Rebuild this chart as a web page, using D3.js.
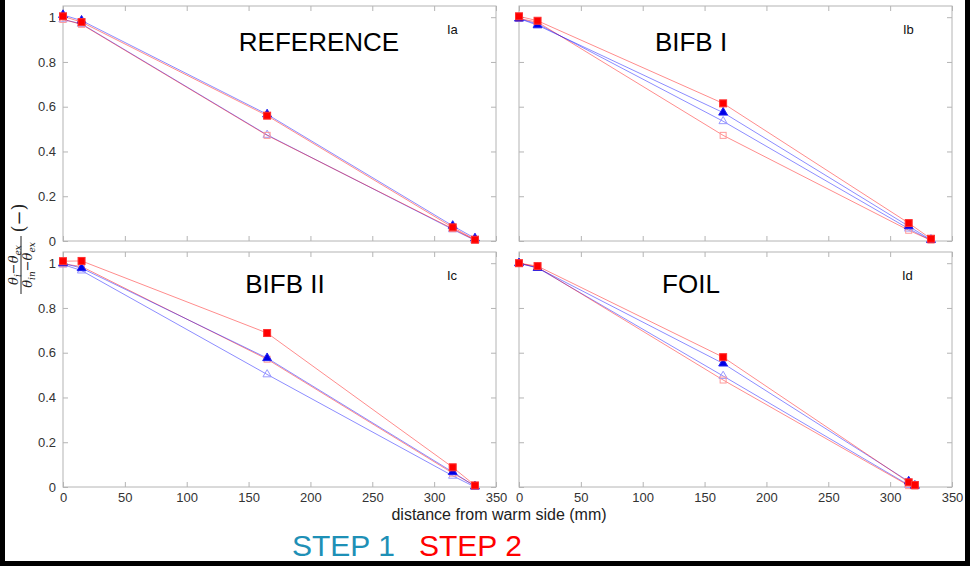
<!DOCTYPE html>
<html>
<head>
<meta charset="utf-8">
<style>
body { margin: 0; background: #fff; }
svg { display: block; font-family: "Liberation Sans", Arial, sans-serif; }
.axis path { stroke: none; }
.axis line { stroke: #b4b4b4; }
.axis text { fill: #333; font-size: 13px; }
.frame { fill: none; stroke: #b4b4b4; stroke-width: 1; }
.title { font-size: 26px; fill: #000; }
.tag { font-size: 13px; fill: #111; }
</style>
</head>
<body>
<svg width="970" height="566"></svg>
<script src="https://cdn.jsdelivr.net/npm/d3@7"></script>
<script>

// distances of the measuring points (mm)
var distance = [0, 15, 165, 315, 333];
var distanceFoil = [0, 15, 165, 315, 320];

var panelTitles = ["REFERENCE", "BIFB I", "BIFB II", "FOIL"];
var panelTags = ["Ia", "Ib", "Ic", "Id"];

var xTicks = [0, 50, 100, 150, 200, 250, 300, 350];
var yTicks = [0, 0.2, 0.4, 0.6, 0.8, 1];

// dimensionless temperature, step 1 (triangles) / step 2 (squares), filled and open
var refStep1Filled = [1.01, 0.985, 0.566, 0.068, 0.012];
var refStep1Open   = [0.99, 0.970, 0.474, 0.052, 0.003];
var refStep2Filled = [1.004, 0.978, 0.560, 0.061, 0.006];
var refStep2Open   = [0.99, 0.968, 0.472, 0.055, 0.004];

var bifb1Step1Filled = [0.994, 0.964, 0.574, 0.066, 0.005];
var bifb1Step1Open   = [0.994, 0.970, 0.535, 0.055, 0.003];
var bifb1Step2Filled = [1.004, 0.984, 0.615, 0.080, 0.010];
var bifb1Step2Open   = [0.994, 0.978, 0.472, 0.048, 0.003];

var bifb2Step1Filled = [1.0, 0.978, 0.576, 0.067, 0.003];
var bifb2Step1Open   = [0.994, 0.967, 0.503, 0.050, 0.0];
var bifb2Step2Filled = [1.009, 1.010, 0.688, 0.088, 0.007];
var bifb2Step2Open   = [0.997, 0.985, 0.571, 0.062, 0.006];

var foilStep1Filled = [1.0, 0.979, 0.552, 0.025, 0.006];
var foilStep1Open   = [1.0, 0.979, 0.496, 0.009, 0.003];
var foilStep2Filled = [1.0, 0.987, 0.580, 0.021, 0.009];
var foilStep2Open   = [1.0, 0.982, 0.478, 0.006, 0.003];

var svg = d3.select("svg");

// panel boxes
var layout = [
  {left: 63,  top: 6,   titleX: 319, titleY: 51,  tagX: 447, tagY: 34,  showX: false, showY: true},
  {left: 519, top: 6,   titleX: 691, titleY: 51,  tagX: 903, tagY: 34,  showX: false, showY: false},
  {left: 63,  top: 252, titleX: 285, titleY: 293, tagX: 447, tagY: 280, showX: true,  showY: true},
  {left: 519, top: 252, titleX: 691, titleY: 293, tagX: 902, tagY: 280, showX: true,  showY: false}
];
var pw = 433, ph = 235;

var panels = [
  {x: distance, s1f: refStep1Filled, s1o: refStep1Open, s2f: refStep2Filled, s2o: refStep2Open},
  {x: distance, s1f: bifb1Step1Filled, s1o: bifb1Step1Open, s2f: bifb1Step2Filled, s2o: bifb1Step2Open},
  {x: distance, s1f: bifb2Step1Filled, s1o: bifb2Step1Open, s2f: bifb2Step2Filled, s2o: bifb2Step2Open},
  {x: distanceFoil, s1f: foilStep1Filled, s1o: foilStep1Open, s2f: foilStep2Filled, s2o: foilStep2Open}
];

var x = d3.scaleLinear().domain([0, 350]).range([0, pw]);
var y = d3.scaleLinear().domain([0, 1.05]).range([ph, 0]);

var triangle = d3.symbol().type(d3.symbolTriangle).size(34);
var triangleOpen = d3.symbol().type(d3.symbolTriangle).size(30);

panels.forEach(function(p, i) {
  var L = layout[i];
  var g = svg.append("g").attr("transform", "translate(" + L.left + "," + L.top + ")");

  g.append("g").attr("class", "axis")
    .attr("transform", "translate(0," + ph + ")")
    .call(d3.axisBottom(x).tickValues(xTicks).tickSizeInner(-5).tickSizeOuter(0).tickPadding(6)
      .tickFormat(L.showX ? d3.format("d") : ""));
  g.append("g").attr("class", "axis")
    .call(d3.axisTop(x).tickValues(xTicks).tickSizeInner(-5).tickSizeOuter(0).tickFormat(""));
  g.append("g").attr("class", "axis")
    .call(d3.axisLeft(y).tickValues(yTicks).tickSizeInner(-5).tickSizeOuter(0).tickPadding(7)
      .tickFormat(L.showY ? function(d) { return d3.format("~g")(d); } : ""));
  g.append("g").attr("class", "axis")
    .attr("transform", "translate(" + pw + ",0)")
    .call(d3.axisRight(y).tickValues(yTicks).tickSizeInner(-5).tickSizeOuter(0).tickFormat(""));

  g.append("rect").attr("class", "frame").attr("width", pw).attr("height", ph);

  var series = [
    {v: p.s1o, line: "blue", kind: "triOpen"},
    {v: p.s2o, line: "red", kind: "sqOpen"},
    {v: p.s1f, line: "blue", kind: "tri"},
    {v: p.s2f, line: "red", kind: "sq"}
  ];

  var line = d3.line()
    .x(function(d, j) { return x(p.x[j]); })
    .y(function(d) { return y(d); });

  series.forEach(function(s) {
    g.append("path")
      .attr("d", line(s.v))
      .attr("fill", "none")
      .attr("stroke", s.line)
      .attr("stroke-opacity", 0.45)
      .attr("stroke-width", 1);
  });

  series.forEach(function(s) {
    var pts = g.selectAll(null).data(s.v).enter();
    if (s.kind == "sq" || s.kind == "sqOpen") {
      var sz = s.kind == "sq" ? 7 : 6;
      pts.append("rect")
        .attr("x", function(d, j) { return x(p.x[j]) - sz / 2; })
        .attr("y", function(d) { return y(d) - sz / 2; })
        .attr("width", sz).attr("height", sz)
        .attr("fill", s.kind == "sq" ? "#ff0000" : "none")
        .attr("stroke", s.kind == "sq" ? "#ff3030" : "#ff9a9a")
        .attr("stroke-width", 1);
    } else {
      pts.append("path")
        .attr("transform", function(d, j) { return "translate(" + x(p.x[j]) + "," + y(d) + ")"; })
        .attr("d", s.kind == "tri" ? triangle : triangleOpen)
        .attr("fill", s.kind == "tri" ? "#0000e6" : "none")
        .attr("stroke", s.kind == "tri" ? "#2020f0" : "#9a9aff")
        .attr("stroke-width", 1);
    }
  });

  svg.append("text").attr("class", "title")
    .attr("x", L.titleX).attr("y", L.titleY)
    .attr("text-anchor", "middle")
    .text(panelTitles[i]);
  svg.append("text").attr("class", "tag")
    .attr("x", L.tagX).attr("y", L.tagY)
    .text(panelTags[i]);
});

// x axis title
svg.append("text")
  .attr("x", 499).attr("y", 520)
  .attr("text-anchor", "middle")
  .style("font-size", "16px").style("fill", "#222")
  .text("distance from warm side (mm)");

// y axis title: (theta_i - theta_ex)/(theta_in - theta_ex) (-)
var yl = svg.append("g").attr("transform", "translate(21,248) rotate(-90)")
  .style("font-family", "'DejaVu Serif', 'Liberation Serif', serif");
var num = yl.append("text").attr("x", -17).attr("y", -3)
  .attr("text-anchor", "middle").style("font-size", "13px").style("font-style", "italic").style("fill", "#222");
num.append("tspan").text("θ");
num.append("tspan").attr("dy", 3).style("font-size", "9px").text("i");
num.append("tspan").attr("dy", -3).style("font-style", "normal").text("−");
num.append("tspan").text("θ");
num.append("tspan").attr("dy", 3).style("font-size", "9px").text("ex");
yl.append("line").attr("x1", -46).attr("x2", 12).attr("y1", 0).attr("y2", 0)
  .attr("stroke", "#222").attr("stroke-width", 1);
var den = yl.append("text").attr("x", -17).attr("y", 11)
  .attr("text-anchor", "middle").style("font-size", "13px").style("font-style", "italic").style("fill", "#222");
den.append("tspan").text("θ");
den.append("tspan").attr("dy", 3).style("font-size", "9px").text("in");
den.append("tspan").attr("dy", -3).style("font-style", "normal").text("−");
den.append("tspan").text("θ");
den.append("tspan").attr("dy", 3).style("font-size", "9px").text("ex");
yl.append("text").attr("x", 30).attr("y", 4)
  .attr("text-anchor", "middle").style("font-size", "18px").style("fill", "#222")
  .text("(−)");

// step legend
svg.append("text").attr("x", 292).attr("y", 556)
  .style("font-size", "30px").style("fill", "#1e90b6").text("STEP 1");
svg.append("text").attr("x", 419).attr("y", 556)
  .style("font-size", "30px").style("fill", "#ff0000").text("STEP 2");

// black frame round the slide
svg.append("rect")
  .attr("x", 2.5).attr("y", -10).attr("width", 965).attr("height", 573.5)
  .attr("fill", "none").attr("stroke", "#000").attr("stroke-width", 5);

</script>
</body>
</html>
